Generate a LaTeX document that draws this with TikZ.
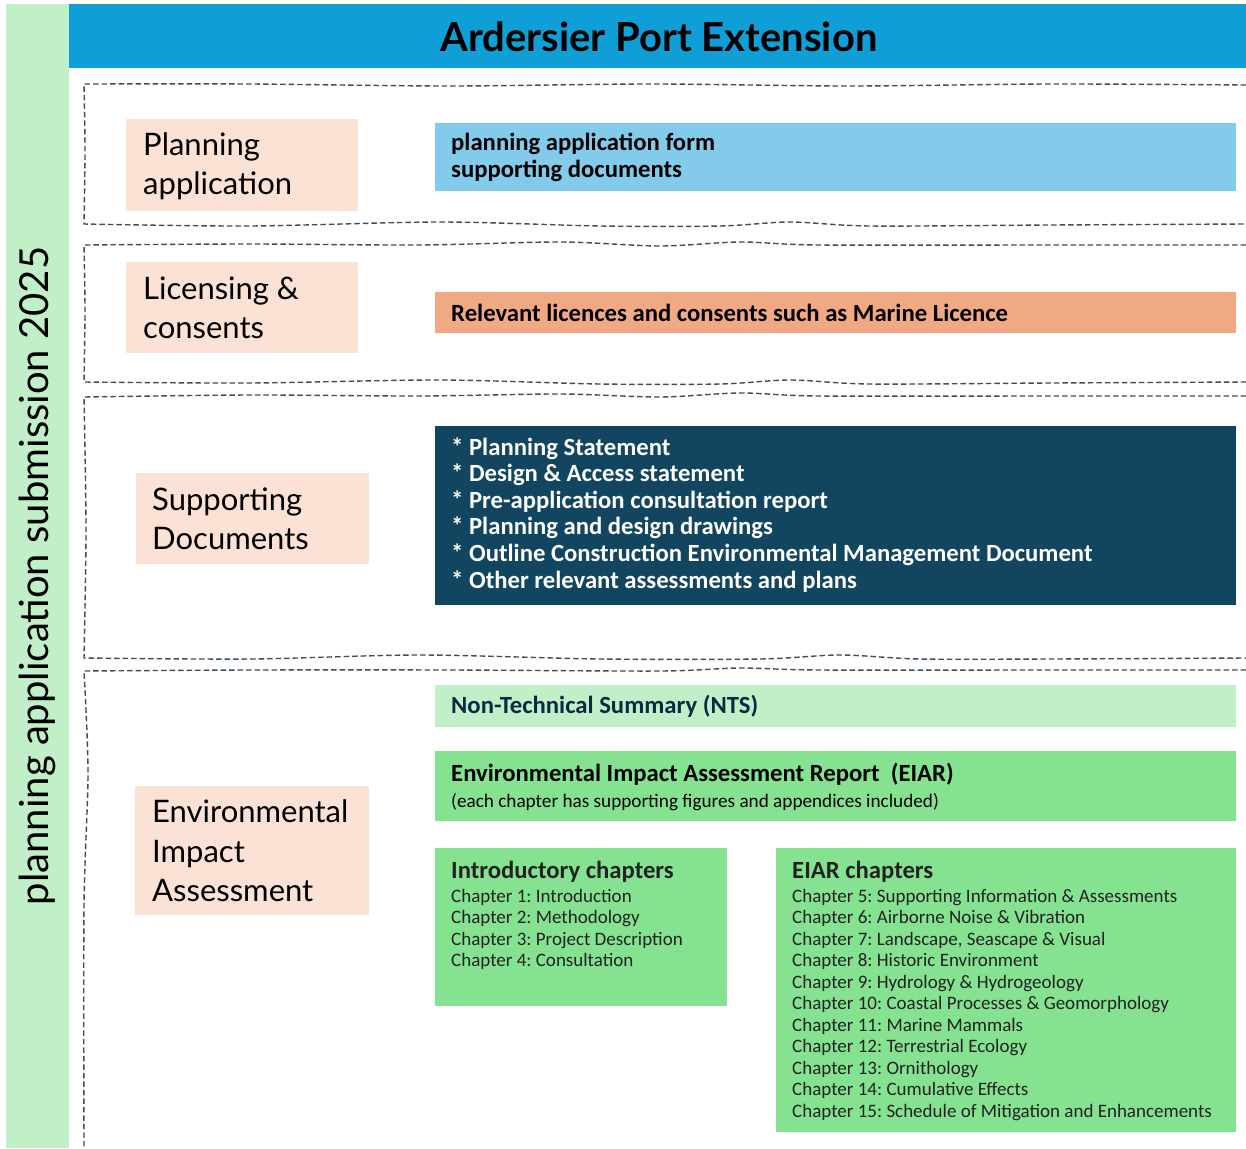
\documentclass[tikz,border=0pt]{standalone}
\usepackage{fontspec}
\setmainfont{Lato}
\newfontfamily\narrowf{Carlito}
\definecolor{sidegreen}{HTML}{C1F0C8}
\definecolor{headblue}{HTML}{0F9ED5}
\definecolor{pinkc}{HTML}{FBE2D5}
\definecolor{lblue}{HTML}{83CBEB}
\definecolor{orangec}{HTML}{F1A983}
\definecolor{navyc}{HTML}{124660}
\definecolor{ntsc}{HTML}{C1F0C8}
\definecolor{greenc}{HTML}{84E291}
\definecolor{ntstext}{HTML}{0E2841}
\definecolor{dashc}{HTML}{3E4E5A}
\definecolor{chtext}{HTML}{222222}
\begin{document}
\frenchspacing
\begin{tikzpicture}[x=1pt,y=-1pt,
  boxfill/.style={draw=none, inner sep=0, anchor=north west},
  plabel/.style={anchor=west, align=left, inner sep=0, font=\fontsize{31}{39.5}\selectfont},
  blabel/.style={anchor=west, align=left, inner sep=0, font=\narrowf\bfseries\fontsize{24.7}{26.6}\selectfont},
  chlabel/.style={anchor=north west, align=left, inner sep=0, text=chtext, font=\narrowf\fontsize{19}{21.5}\selectfont},
  frameline/.style={draw=dashc, line width=1.4, dash pattern=on 5.5 off 3}
]
\useasboundingbox (0,0) rectangle (1246,1148);
\fill[white] (0,0) rectangle (1246,1148);

% side strip and header
\node[boxfill, fill=sidegreen, minimum width=63, minimum height=1144] (strip) at (6,4) {};
\node[rotate=90, inner sep=0, font=\fontsize{40}{44}\selectfont] (side) at (strip.center |- 0,576) {planning application submission 2025};
\node[boxfill, fill=headblue, minimum width=1177, minimum height=64] (head) at (69,4) {};
\node[inner sep=0, font=\bfseries\fontsize{40}{44}\selectfont] (title) at (659,37) {Ardersier Port Extension};

% dashed frames
\draw[frameline] plot[smooth] coordinates {(1246,85) (1050,84) (850,86) (650,84) (450,86) (250,84) (84,84)}
  -- plot[smooth] coordinates {(84,84) (85,150) (84,224)}
  -- plot[smooth] coordinates {(84,224) (250,226) (440,222) (600,226) (720,226) (790,222) (870,226) (1050,225) (1246,224)};
\draw[frameline] plot[smooth] coordinates {(1246,245) (1050,245) (820,245) (740,242) (660,246) (560,242) (420,245) (250,244) (84,245)}
  -- plot[smooth] coordinates {(84,245) (85,310) (84,382)}
  -- plot[smooth] coordinates {(84,382) (250,383) (440,380) (600,384) (720,384) (790,380) (870,384) (1050,383) (1246,382)};
\draw[frameline] plot[smooth] coordinates {(1246,396) (1050,396) (820,396) (740,393) (660,397) (560,394) (420,396) (250,395) (84,397)}
  -- plot[smooth] coordinates {(84,397) (86,530) (84,658)}
  -- plot[smooth] coordinates {(84,658) (250,659) (420,655) (600,659) (760,659) (840,655) (920,659) (1050,659) (1246,658)};
\draw[frameline] plot[smooth] coordinates {(1246,670) (1050,670) (820,670) (740,668) (660,671) (450,670) (250,670) (84,671)}
  -- plot[smooth] coordinates {(84,671) (88,773) (84,907) (84,1148)};

% pink labels
\node[boxfill, fill=pinkc, minimum width=232, minimum height=92] (pk1) at (126,119) {};
\node[plabel] (pk1t) at ([xshift=17,yshift=-1]pk1.west) {Planning\\application};
\node[boxfill, fill=pinkc, minimum width=232, minimum height=91] (pk2) at (126,262) {};
\node[plabel] (pk2t) at ([xshift=17]pk2.west) {Licensing \&\\consents};
\node[boxfill, fill=pinkc, minimum width=233, minimum height=91] (pk3) at (136,473) {};
\node[plabel] (pk3t) at ([xshift=16]pk3.west) {Supporting\\Documents};
\node[boxfill, fill=pinkc, minimum width=234, minimum height=129] (pk4) at (135,786) {};
\node[plabel] (pk4t) at ([xshift=17]pk4.west) {Environmental\\Impact\\Assessment};

% right boxes
\node[boxfill, fill=lblue, minimum width=801, minimum height=68] (pa) at (435,123) {};
\node[blabel] (pat) at ([xshift=16]pa.west) {planning application form\\supporting documents};
\node[boxfill, fill=orangec, minimum width=801, minimum height=41] (lic) at (435,292) {};
\node[blabel] (lict) at ([xshift=16]lic.west) {Relevant licences and consents such as Marine Licence};
\node[boxfill, fill=navyc, minimum width=801, minimum height=179] (sd) at (435,426) {};
\node[blabel, text=white] (sdt) at ([xshift=16,yshift=1]sd.west) {* Planning Statement\\* Design \& Access statement\\* Pre-application consultation report\\* Planning and design drawings\\* Outline Construction Environmental Management Document\\* Other relevant assessments and plans};
\node[boxfill, fill=ntsc, minimum width=801, minimum height=42] (nts) at (435,685) {};
\node[blabel, text=ntstext] (ntst) at ([xshift=16]nts.west) {Non-Technical Summary (NTS)};
\node[boxfill, fill=greenc, minimum width=801, minimum height=70] (eiar) at (435,751) {};
\node[blabel] (eiart) at ([xshift=16,yshift=-1]eiar.west) {Environmental Impact Assessment Report\ \ (EIAR)\\[-1pt]{\mdseries\fontsize{19.2}{21.5}\selectfont (each chapter has supporting figures and appendices included)}};
\node[boxfill, fill=greenc, minimum width=292, minimum height=158] (intro) at (435,848) {};
\node[chlabel] (introt) at ([xshift=16,yshift=-13]intro.north west) {{\bfseries\fontsize{24.7}{26}\selectfont Introductory chapters}\\[2pt]Chapter 1: Introduction\\Chapter 2: Methodology\\Chapter 3: Project Description\\Chapter 4: Consultation};
\node[boxfill, fill=greenc, minimum width=460, minimum height=284] (ch) at (776,848) {};
\node[chlabel] (cht) at ([xshift=16,yshift=-13]ch.north west) {{\bfseries\fontsize{24.7}{26}\selectfont EIAR chapters}\\[2pt]Chapter 5: Supporting Information \& Assessments\\Chapter 6: Airborne Noise \& Vibration\\Chapter 7: Landscape, Seascape \& Visual\\Chapter 8: Historic Environment\\Chapter 9: Hydrology \& Hydrogeology\\Chapter 10: Coastal Processes \& Geomorphology\\Chapter 11: Marine Mammals\\Chapter 12: Terrestrial Ecology\\Chapter 13: Ornithology\\Chapter 14: Cumulative Effects\\Chapter 15: Schedule of Mitigation and Enhancements};
\end{tikzpicture}
\end{document}
